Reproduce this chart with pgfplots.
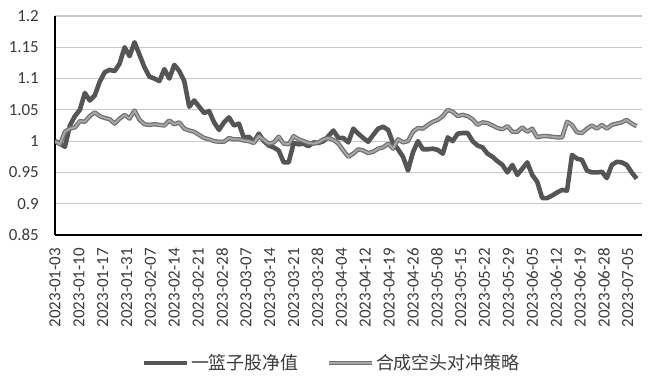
\documentclass[border=0pt]{standalone}
\usepackage{fontspec}
\setmainfont{Carlito}
\newfontfamily\cjk{Noto Sans CJK SC}
\usepackage{pgfplots}
\usepackage{pgfplotstable}
\pgfplotsset{compat=1.18}
\definecolor{darkline}{HTML}{555555}
\definecolor{lightin}{HTML}{A8A8A8}
\definecolor{lightout}{HTML}{707070}
\definecolor{gridc}{HTML}{C8C8C8}
\definecolor{txt}{HTML}{3A3A3A}
\pgfplotstableread{
i d l
0 1.000 1.000
1 0.996 0.995
2 0.991 1.015
3 1.025 1.020
4 1.040 1.022
5 1.050 1.032
6 1.077 1.031
7 1.065 1.040
8 1.073 1.046
9 1.095 1.040
10 1.110 1.037
11 1.114 1.035
12 1.112 1.028
13 1.124 1.036
14 1.150 1.042
15 1.136 1.036
16 1.158 1.049
17 1.138 1.034
18 1.118 1.027
19 1.103 1.026
20 1.100 1.027
21 1.096 1.026
22 1.115 1.025
23 1.100 1.033
24 1.122 1.027
25 1.112 1.030
26 1.096 1.020
27 1.055 1.017
28 1.065 1.015
29 1.055 1.010
30 1.045 1.005
31 1.048 1.003
32 1.030 1.000
33 1.018 0.999
34 1.030 0.999
35 1.038 1.005
36 1.025 1.003
37 1.028 1.003
38 1.005 1.001
39 1.007 1.000
40 0.999 0.997
41 1.012 1.008
42 1.000 1.002
43 0.993 0.996
44 0.990 0.998
45 0.985 1.007
46 0.966 0.996
47 0.966 0.995
48 0.997 1.008
49 0.995 1.003
50 0.996 1.000
51 0.992 0.997
52 0.998 0.996
53 0.997 0.998
54 1.000 1.003
55 1.008 1.005
56 1.017 1.002
57 1.005 0.996
58 1.005 0.985
59 0.998 0.975
60 1.020 0.980
61 1.012 0.987
62 1.005 0.985
63 0.999 0.981
64 1.010 0.983
65 1.020 0.988
66 1.023 0.990
67 1.018 0.996
68 0.997 0.988
69 0.987 1.003
70 0.975 0.998
71 0.953 1.000
72 0.982 1.015
73 1.000 1.021
74 0.987 1.020
75 0.987 1.026
76 0.988 1.031
77 0.986 1.034
78 0.980 1.040
79 1.006 1.050
80 1.000 1.047
81 1.012 1.040
82 1.013 1.042
83 1.013 1.040
84 1.000 1.035
85 0.993 1.026
86 0.990 1.030
87 0.980 1.029
88 0.975 1.025
89 0.968 1.021
90 0.962 1.019
91 0.950 1.024
92 0.962 1.015
93 0.946 1.015
94 0.956 1.022
95 0.966 1.015
96 0.946 1.020
97 0.935 1.006
98 0.909 1.008
99 0.909 1.008
100 0.913 1.007
101 0.918 1.006
102 0.922 1.006
103 0.921 1.031
104 0.978 1.026
105 0.972 1.014
106 0.970 1.013
107 0.953 1.020
108 0.950 1.025
109 0.950 1.020
110 0.951 1.026
111 0.941 1.020
112 0.962 1.026
113 0.967 1.028
114 0.966 1.030
115 0.962 1.034
116 0.950 1.028
117 0.940 1.024
}\data
\begin{document}
\begin{tikzpicture}
\path[use as bounding box] (-55bp,-144bp) rectangle (595bp,235bp);
\begin{axis}[
  at={(0,0)}, anchor=south west,
  scale only axis, width=587bp, height=219bp,
  xmin=0, xmax=123, ymin=0.85, ymax=1.2,
  axis x line*=bottom, axis y line*=left,
  axis line style={black, line width=1.4bp},
  ytick={0.85,0.9,0.95,1,1.05,1.1,1.15,1.2},
  yticklabels={0.85,0.9,0.95,1,1.05,1.1,1.15,1.2},
  ymajorgrids, grid style={gridc, line width=1.2bp},
  xtick={0,5,...,120},
  xticklabels={2023-01-03,2023-01-10,2023-01-17,2023-01-31,2023-02-07,2023-02-14,2023-02-21,2023-02-28,2023-03-07,2023-03-14,2023-03-21,2023-03-28,2023-04-04,2023-04-12,2023-04-19,2023-04-26,2023-05-08,2023-05-15,2023-05-22,2023-05-29,2023-06-05,2023-06-12,2023-06-19,2023-06-28,2023-07-05},
  major tick length=0pt,
  tick label style={font=\fontsize{17}{17}\selectfont, text=txt, inner sep=0pt},
  /pgf/number format/assume math mode=true,
  xticklabel style={rotate=90, anchor=east},
  yticklabel style={anchor=east},
  xticklabel shift=13bp,
  yticklabel shift=16bp,
  legend style={at={(0.471,-0.585)}, anchor=center, draw=none, fill=none,
    font=\cjk\fontsize{18}{18}\selectfont, text=txt, inner sep=0pt,
    /tikz/every even column/.append style={column sep=26bp}},
  legend columns=2,
  legend cell align=left,
  legend image code/.code={\draw[#1] (0bp,0bp) -- (43bp,0bp);},
]
\addplot[darkline, line width=4.6bp, line join=round] table[x expr=\thisrow{i}*1.0417, y=d]{\data};
\addlegendentry{\cjk 一篮子股净值}
\addplot[lightin, line width=1.9bp, line join=round, preaction={draw=lightout, line width=4.4bp}] table[x expr=\thisrow{i}*1.0417, y=l]{\data};
\addlegendentry{\cjk 合成空头对冲策略}
\end{axis}
\end{tikzpicture}
\end{document}
